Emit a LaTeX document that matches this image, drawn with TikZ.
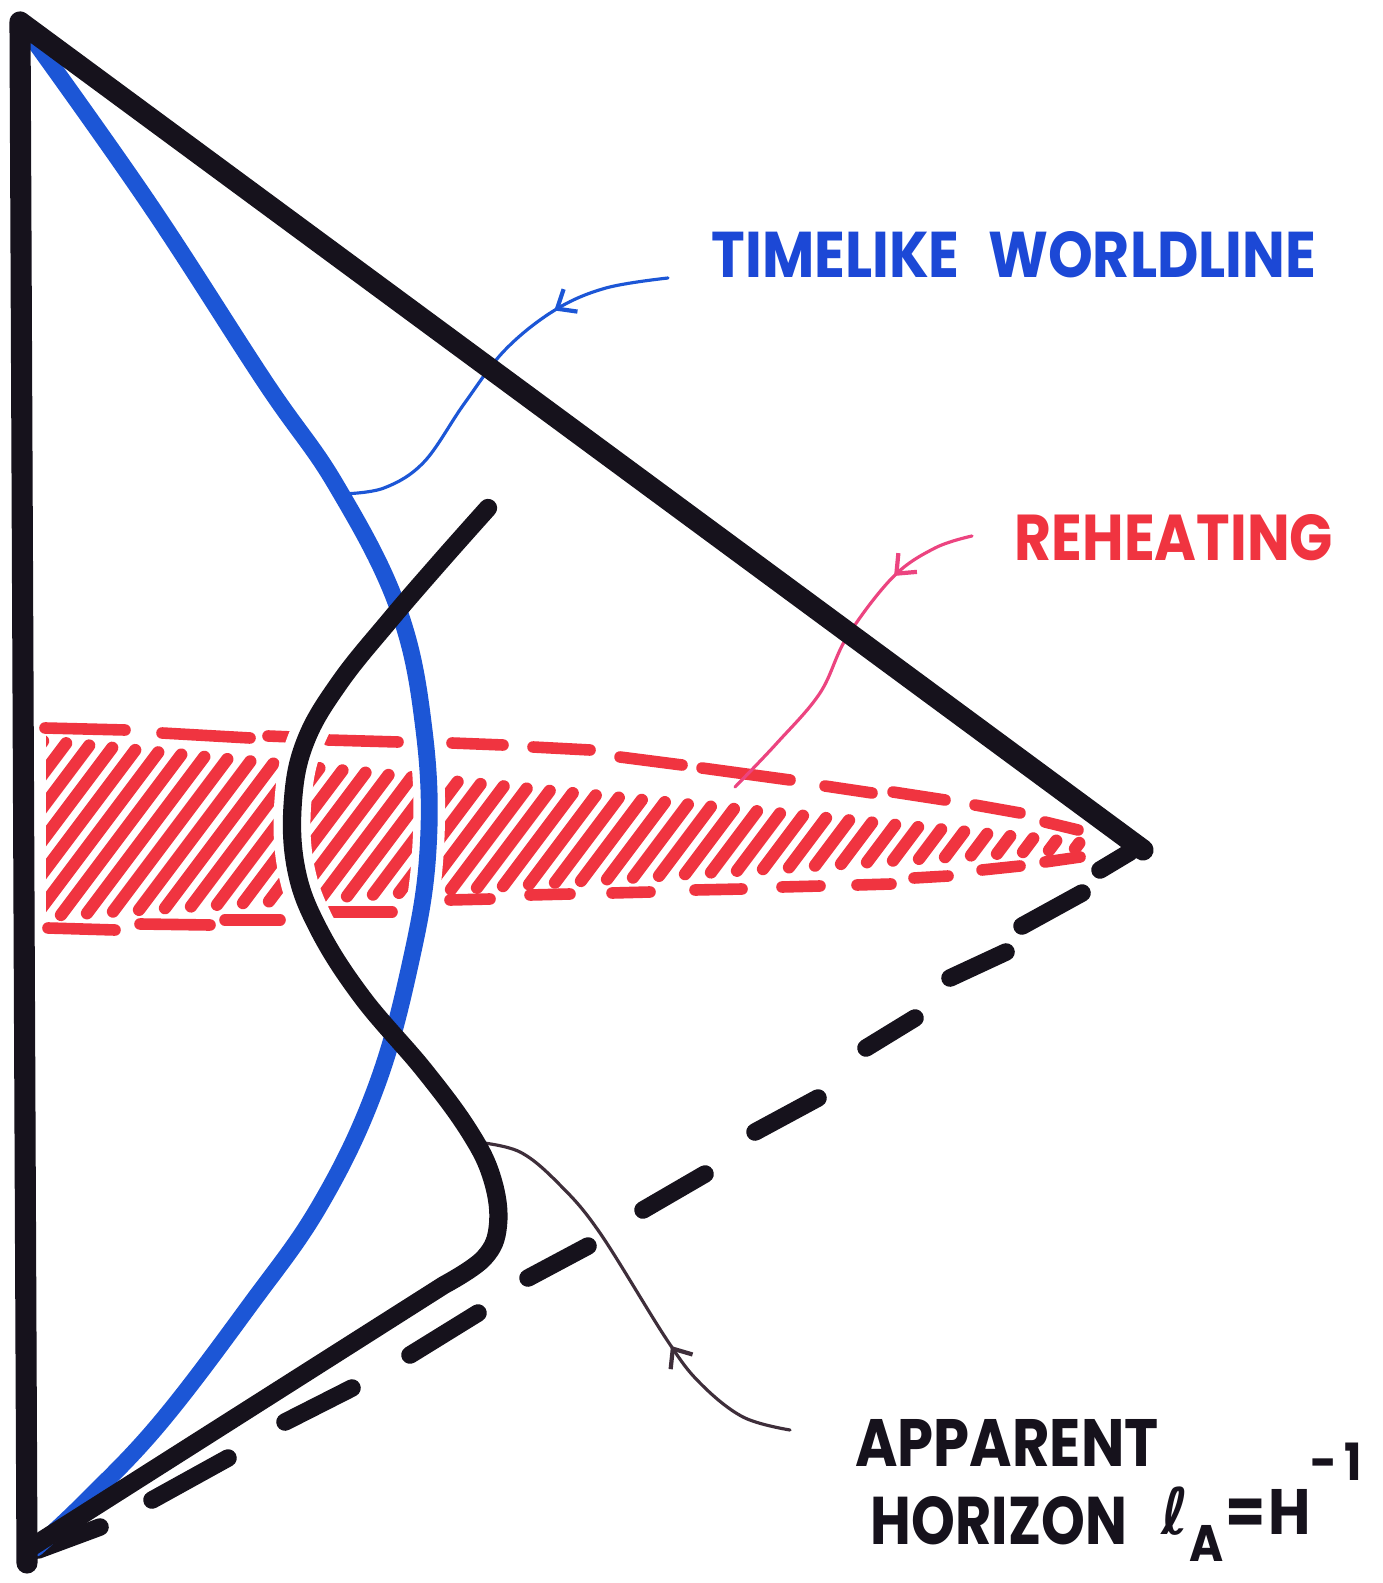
\documentclass[tikz,border=0pt]{standalone}
\usepackage{fontspec}
\newfontfamily\hand{Poppins}
\newfontfamily\ellfont{DejaVu Sans}
\usetikzlibrary{arrows.meta,decorations.markings}
\definecolor{ink}{RGB}{22,18,28}
\definecolor{wblue}{RGB}{28,86,214}
\definecolor{tblue}{RGB}{28,72,214}
\definecolor{mred}{RGB}{240,52,64}
\definecolor{mpink}{RGB}{236,68,128}
\definecolor{mdark}{RGB}{62,46,58}
\def\hzcurve{plot[smooth,tension=0.65] coordinates {(488,508) (440,562) (390,620) (340,682) (306,740) (293,800) (296,868) (318,928) (362,997) (424,1070) (469,1131) (492,1178) (498,1225) (484,1258) (444,1285)} -- (30,1548)}
\def\wlcurve{plot[smooth,tension=0.65] coordinates {(35,42) (150,205) (265,382) (336,485) (398,608) (424,730) (428,850) (410,965) (375,1090) (320,1205) (250,1305) (160,1423) (85,1502) (36,1548)}}
\begin{document}
\begin{tikzpicture}[x=0.01cm,y=-0.01cm,line cap=round,line join=round,
  frame/.style={ink,line width=6pt},
  hzline/.style={ink,line width=5.2pt},
  world/.style={wblue,line width=4.8pt},
  lcdash/.style={ink,line width=5pt},
  hatch/.style={mred,line width=3.5pt},
  bandedge/.style={mred,line width=3.3pt},
  thinline/.style={line width=0.9pt},
  midarrow/.style={postaction={decorate},decoration={markings,mark=at position #1 with {\arrow{Straight Barb[length=4.5pt,width=7.5pt,line width=1.2pt]}}}},
  lbl/.style={inner sep=0pt,font=\hand\bfseries}]
\useasboundingbox[fill=white] (0,0) rectangle (1383,1583);

% ---- reheating band: hatching
\begin{scope}
\clip (46,600) rectangle (1200,1000);
\foreach \xa in {-95,-69,...,1100} {
  \pgfmathsetmacro\yb{928-0.0654*(\xa-45)-12}
  \pgfmathsetmacro\hl{max(0,(\yb-741-0.0984*(\xa-43))/0.859)}
  \draw[hatch] (\xa,\yb) -- ++({0.6*\hl},{-0.8*\hl});
}
\end{scope}
% band edges (dashed by hand)
\foreach \xa/\ya/\xb/\yb in {45/728/125/730,162/733/250/738,268/736/292/737,328/740/398/742,452/743/503/745,533/747/590/750,620/757/682/765,702/768/790/780,825/786/872/793,893/792/945/800,975/805/1020/813,1045/822/1078/830}
  \draw[bandedge] (\xa,\ya) -- (\xb,\yb);
\foreach \xa/\ya/\xb/\yb in {48/928/115/930,140/924/210/925,225/920/280/920,330/912/392/912,450/900/490/899,530/895/570/894,612/893/650/892,695/890/742/889,782/887/820/886,857/885/891/884,914/878/948/876,982/870/1020/866,1045/862/1080/857}
  \draw[bandedge] (\xa,\ya) -- (\xb,\yb);

% ---- gaps around the curves
\begin{scope}
\clip (40,705) rectangle (1200,945);
\draw[white,line width=10.5pt] \hzcurve;
\draw[white,line width=9pt] \wlcurve;
\end{scope}

% ---- dashed lower edge
\foreach \xa/\ya/\xb/\yb in {38/1550/100/1527,152/1500/228/1458,285/1422/352/1388,410/1355/478/1313,528/1278/588/1246,643/1210/705/1174,755/1132/818/1098,866/1048/915/1018,950/978/1006/952,1022/926/1082/893,1100/870/1130/852}
  \draw[lcdash] (\xa,\ya) -- (\xb,\yb);

% ---- labels
\node[lbl,tblue] (tw) at (1014,255) {\resizebox{6.04cm}{0.46cm}{TIMELIKE\hspace{0.5em}WORLDLINE}};
\node[lbl,mred] (rh) at (1174,538) {\resizebox{3.18cm}{0.46cm}{REHEATING}};
\node[lbl,ink] (ap) at (1007,1443) {\resizebox{3.03cm}{0.47cm}{APPARENT}};
\node[lbl,ink] (hzl) at (999,1521) {\resizebox{2.56cm}{0.48cm}{HORIZON}};
\node[lbl,ink] (fm) at (1262,1502) {\resizebox*{2.0cm}{1.18cm}{{\ellfont\bfseries\itshape ℓ}\raisebox{-0.75ex}{\footnotesize A}\kern0.04em=\kern0.04em H\raisebox{1.5ex}{\footnotesize -\kern0.15em1}}};

% ---- connectors
\coordinate (twc) at (668,278);
\coordinate (twe) at (342,494);
\coordinate (rhc) at (972,536);
\coordinate (rhe) at (735,787);
\coordinate (hzc) at (790,1430);
\coordinate (hze) at (476,1142);
\draw[thinline,wblue,midarrow=0.29] plot[smooth,tension=0.6] coordinates {(twc) (606,288) (555,310) (505,350) (464,404) (424,462) (384,488) (twe)};
\draw[thinline,mpink,midarrow=0.25] plot[smooth,tension=0.6] coordinates {(rhc) (935,548) (893,577) (847,637) (820,693) (777,743) (rhe)};
\draw[thinline,mdark,midarrow=0.34] plot[smooth,tension=0.6] coordinates {(hzc) (743,1417) (700,1383) (667,1340) (600,1233) (560,1185) (520,1152) (hze)};

% ---- worldline, apparent horizon, frame
\draw[world] \wlcurve;
\draw[hzline] \hzcurve;
\draw[frame] (27,1563) -- (20,22) -- (1143,850);
\end{tikzpicture}
\end{document}
